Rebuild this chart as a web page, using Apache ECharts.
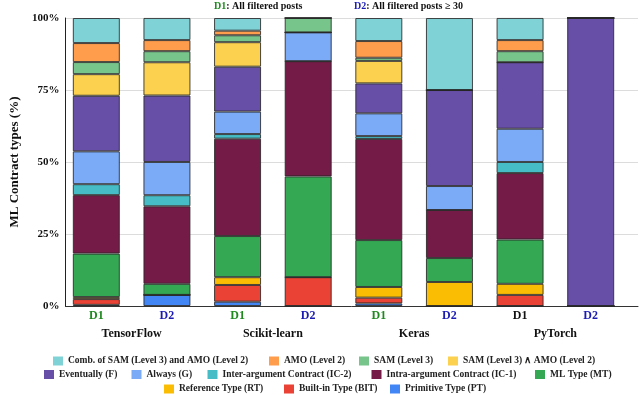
<!DOCTYPE html>
<html>
<head>
<meta charset="utf-8">
<script src="https://cdn.jsdelivr.net/npm/echarts@6/dist/echarts.min.js"></script>
<style>html,body{margin:0;padding:0;background:#fff}#c{width:640px;height:395px}</style>
</head>
<body>
<div id="c"></div>
<script>
// ---- data ----
var groups = ['TensorFlow', 'Scikit-learn', 'Keras', 'PyTorch'];
var subsets = ['D1', 'D2'];
var yTicks = [0, 25, 50, 75, 100];

// series names (legend order, top of stack first)
var seriesNames = [
  'Comb. of SAM (Level 3) and AMO (Level 2)',
  'AMO (Level 2)',
  'SAM (Level 3)',
  'SAM (Level 3) \u2227 AMO (Level 2)',
  'Eventually (F)',
  'Always (G)',
  'Inter-argument Contract (IC-2)',
  'Intra-argument Contract (IC-1)',
  'ML Type (MT)',
  'Reference Type (RT)',
  'Built-in Type (BIT)',
  'Primitive Type (PT)'
];

// values in % for bars: TF D1, TF D2, SK D1, SK D2, KR D1, KR D2, PT D1, PT D2
var comb    = [8.7, 7.69, 4.4, 0, 8.0, 25.0, 7.69, 0];
var amo     = [6.6, 3.85, 1.6, 0, 5.8, 0, 3.85, 0];
var sam     = [4.2, 3.85, 2.4, 5.0, 1.1, 0, 3.85, 0];
var samAmo  = [7.5, 11.54, 8.5, 0, 7.8, 0, 0, 0];
var evt     = [19.3, 23.08, 15.6, 0, 10.4, 33.33, 23.08, 100];
var alw     = [11.4, 11.54, 7.8, 10.0, 7.9, 8.33, 11.54, 0];
var ic2     = [3.8, 3.85, 1.6, 0, 1.0, 0, 3.85, 0];
var ic1     = [20.3, 26.92, 33.8, 40.0, 35.1, 16.67, 23.08, 0];
var mlType  = [15.1, 3.85, 14.3, 35.0, 16.3, 8.33, 15.38, 0];
var refType = [0.7, 0, 2.7, 0, 3.7, 8.33, 3.85, 0];
var builtin = [2.0, 0, 5.8, 10.0, 2.0, 0, 3.85, 0];
var prim    = [0.4, 3.85, 1.5, 0, 0.9, 0, 0, 0];

var seriesValues = [comb, amo, sam, samAmo, evt, alw, ic2, ic1, mlType, refType, builtin, prim];
var colors = ['#7fd3d7', '#ff9d4d', '#78c58b', '#fcd14f', '#674ea7', '#7baaf7',
              '#46bdc6', '#741b47', '#34a853', '#fbbc04', '#ea4335', '#4285f4'];

// ---- build ----
var cats = [];
groups.forEach(function (g) { subsets.forEach(function (s) { cats.push(g + '|' + s); }); });

var SERIF = '"Liberation Serif", "Times New Roman", serif';

var series = [];
// stack bottom-up: reverse of legend order
for (var i = seriesNames.length - 1; i >= 0; i--) {
  series.push({
    name: seriesNames[i],
    type: 'bar',
    stack: 'all',
    xAxisIndex: 1,
    yAxisIndex: 1,
    barWidth: 47,
    data: seriesValues[i],
    itemStyle: { color: colors[i], borderColor: 'rgba(40,40,40,0.85)', borderWidth: 1 },
    emphasis: { disabled: true }
  });
}

// legend positions (one legend per item, laid out in three rows)
var legendPos = [
  [53, 356], [269, 356], [359, 356], [448, 356],
  [44, 369.5], [131.5, 369.5], [207.5, 369.5], [371.5, 369.5], [535, 369.5],
  [164, 384], [284, 384], [390, 384]
];
var legends = seriesNames.map(function (n, i) {
  return {
    data: [n], left: legendPos[i][0], top: legendPos[i][1],
    itemWidth: 10, itemHeight: 9, itemGap: 0, padding: 0,
    icon: 'rect',
    itemStyle: { borderWidth: 0 },
    textStyle: { fontFamily: SERIF, fontWeight: 'bold', fontSize: 9.5, color: '#222' }
  };
});

var option = {
  animation: false,
  color: colors,
  title: [
    { text: '{g|D1}: All filtered posts', left: 214, top: 1, padding: 0,
      textStyle: { fontFamily: SERIF, fontWeight: 'bold', fontSize: 10, color: '#111',
        rich: { g: { fontFamily: SERIF, fontWeight: 'bold', fontSize: 10, color: '#1e8a1e' } } } },
    { text: '{b|D2}: All filtered posts \u2265 30', left: 354, top: 1, padding: 0,
      textStyle: { fontFamily: SERIF, fontWeight: 'bold', fontSize: 10, color: '#111',
        rich: { b: { fontFamily: SERIF, fontWeight: 'bold', fontSize: 10, color: '#1c1cb4' } } } }
  ],
  legend: legends,
  grid: [
    { left: 48, right: 2, top: 18, bottom: 89 },
    { left: 61, right: 14, top: 18, bottom: 89 }
  ],
  xAxis: [
    { type: 'value', gridIndex: 0, min: 0, max: 1,
      axisLine: { show: true, lineStyle: { color: '#333', width: 1 } },
      axisTick: { show: false }, axisLabel: { show: false }, splitLine: { show: false } },
    { type: 'category', gridIndex: 1, data: cats,
      axisLine: { show: false }, axisTick: { show: false },
      axisLabel: {
        margin: 4, interval: 0,
        formatter: function (v, idx) {
          var s = v.split('|')[1];
          if (s === 'D2') return '{d2|' + s + '}';
          if (v.split('|')[0] === 'PyTorch') return '{k|' + s + '}';
          return '{d1|' + s + '}';
        },
        rich: {
          d1: { fontFamily: SERIF, fontWeight: 'bold', fontSize: 12, color: '#1e8a1e' },
          d2: { fontFamily: SERIF, fontWeight: 'bold', fontSize: 12, color: '#1c1cb4' },
          k:  { fontFamily: SERIF, fontWeight: 'bold', fontSize: 12, color: '#111' }
        }
      } },
    { type: 'category', gridIndex: 1, data: groups, position: 'bottom', offset: 20,
      axisLine: { show: false }, axisTick: { show: false },
      axisLabel: { margin: 2, interval: 0, fontFamily: SERIF, fontWeight: 'bold', fontSize: 12, color: '#111' } }
  ],
  yAxis: [
    { type: 'value', gridIndex: 0, min: 0, max: 100, interval: 25,
      name: 'ML Contract types (%)', nameLocation: 'middle', nameGap: 33, nameRotate: 90,
      nameTextStyle: { fontFamily: SERIF, fontWeight: 'bold', fontSize: 13, color: '#111' },
      axisLine: { show: true, lineStyle: { color: '#222', width: 1 } },
      axisTick: { show: false },
      axisLabel: { formatter: '{value}%', margin: 6, fontFamily: SERIF, fontWeight: 'bold', fontSize: 11, color: '#111' },
      splitLine: { show: true, lineStyle: { color: '#dcdcdc', width: 1 } } },
    { type: 'value', gridIndex: 1, min: 0, max: 100, show: false, splitLine: { show: false } }
  ],
  series: series
};

var chart = echarts.init(document.getElementById('c'), null, { renderer: 'canvas' });
chart.setOption(option);
</script>
</body>
</html>
